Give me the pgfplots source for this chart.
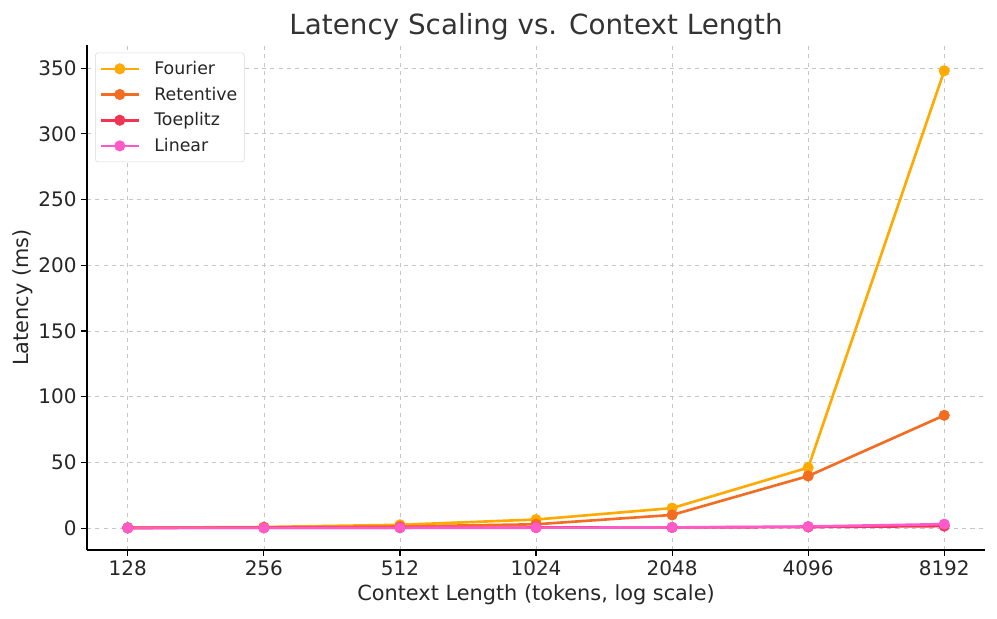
\documentclass[border=0pt]{standalone}
\usepackage{pgfplots}
\pgfplotsset{compat=1.18}
\usepackage{fontspec}
\setmainfont{DejaVu Sans}
\definecolor{cFourier}{RGB}{255,170,0}
\definecolor{cRet}{RGB}{242,108,34}
\definecolor{cToe}{RGB}{242,52,84}
\definecolor{cLin}{RGB}{255,90,200}
\definecolor{txt}{RGB}{38,38,38}
\begin{document}
\begin{tikzpicture}
\begin{axis}[
  name=ax,
  scale only axis,
  width=646.6pt, height=363.6pt,
  axis lines=left,
  axis line style={-, line width=1pt},
  xmode=log, log basis x=2,
  xmin=103.97, xmax=10085,
  ymin=-16.7, ymax=367.6,
  xtick={128,256,512,1024,2048,4096,8192},
  xticklabels={128,256,512,1024,2048,4096,8192},
  ytick={0,50,100,150,200,250,300,350},
  /pgf/number format/assume math mode=true,
  tick label style={font=\fontsize{14.4}{17}\selectfont, text=txt},
  tick style={black, line width=0.8pt},
  major tick length=4pt,
  tick align=outside,
  xmajorgrids, ymajorgrids,
  major grid style={dashed, gray!45, line width=0.5pt},
  xlabel={Context Length (tokens, log scale)},
  ylabel={Latency (ms)},
  ylabel style={yshift=-3pt},
  label style={font=\fontsize{15}{18}\selectfont, text=txt},
  title={Latency Scaling vs. Context Length},
  title style={font=\fontsize{20}{24}\selectfont, text=black!80, yshift=-6pt},
  legend style={font=\fontsize{12.5}{15}\selectfont, draw=gray!30, rounded corners=2pt, fill=white, at={(0.009,0.985)}, anchor=north west, row sep=3.5pt, inner xsep=3pt, inner ysep=4pt, text=txt},
  legend cell align=left,
  legend image code/.code={
    \draw[line width=1.9pt, mark repeat=2, mark phase=2] plot coordinates {(0cm,0cm) (0.48cm,0cm) (0.96cm,0cm)};
    \path (1.25cm,0cm);},
  every axis plot/.append style={line width=1.9pt, mark=*, mark size=3pt},
]
\addplot[color=cFourier, mark options={fill=cFourier}] coordinates {
(128,0.3) (256,0.8) (512,2.5) (1024,6.5) (2048,15.2) (4096,46) (8192,348)
};
\addlegendentry{Fourier}
\addplot[color=cRet, mark options={fill=cRet}] coordinates {
(128,0.2) (256,0.5) (512,1.2) (1024,2.9) (2048,10) (4096,39.6) (8192,85.8)
};
\addlegendentry{Retentive}
\addplot[color=cToe, mark options={fill=cToe}] coordinates {
(128,0.1) (256,0.2) (512,0.3) (1024,0.4) (2048,0.5) (4096,0.8) (8192,1.5)
};
\addlegendentry{Toeplitz}
\addplot[color=cLin, mark options={fill=cLin}] coordinates {
(128,0.1) (256,0.15) (512,0.2) (1024,0.3) (2048,0.5) (4096,1.2) (8192,3)
};
\addlegendentry{Linear}
\end{axis}
\path (ax.south west) ++(-62.6pt,-49pt) (ax.north east) ++(8.6pt,32.4pt);
\end{tikzpicture}
\end{document}
